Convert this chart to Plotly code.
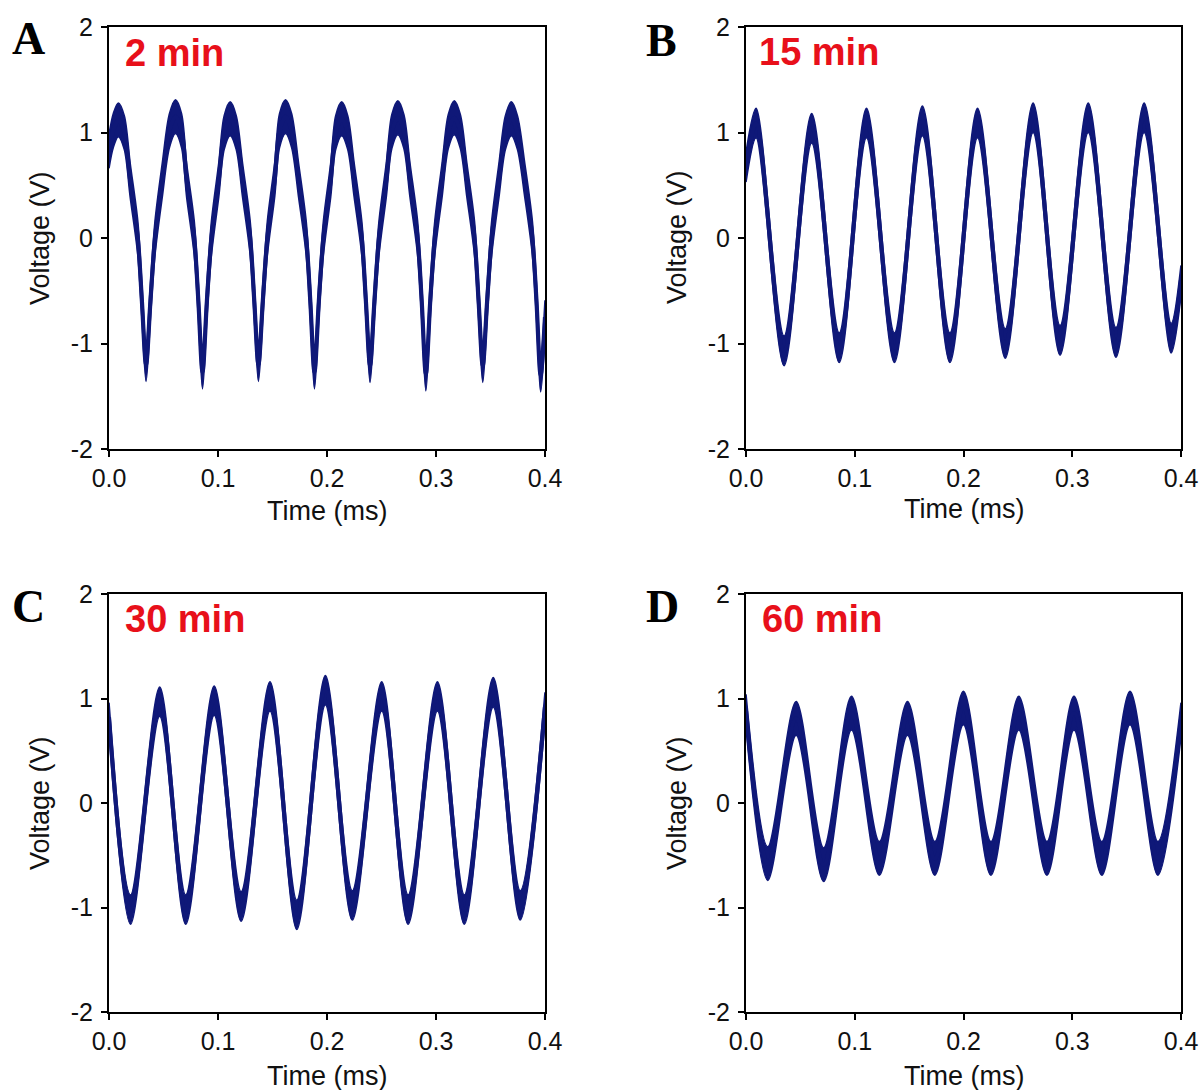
import plotly.graph_objects as go

W, H = 1204, 1090
NAVY = "#0f1878"
RED = "#e8101a"

# Axis ticks
x_tickvals = [0.0, 0.1, 0.2, 0.3, 0.4]
x_ticktext = ["0.0", "0.1", "0.2", "0.3", "0.4"]
y_tickvals = [-2, -1, 0, 1, 2]
y_ticktext = ["-2", "-1", "0", "1", "2"]

panel_letters = ["A", "B", "C", "D"]
panel_times = ["2 min", "15 min", "30 min", "60 min"]

# Waveform key points: time (ms) and mid-trace voltage (V); noise = half-width of the noisy band (V)
t_2min = [0.0, 0.0040, 0.0085, 0.0140, 0.0194, 0.0264, 0.0302, 0.0340, 0.0380, 0.0422, 0.0489, 0.0555,
          0.0610, 0.0665, 0.0712, 0.0782, 0.0820, 0.0858, 0.0898, 0.0940, 0.1007, 0.1057,
          0.1112, 0.1167, 0.1225, 0.1295, 0.1333, 0.1371, 0.1411, 0.1453, 0.1520, 0.1565,
          0.1620, 0.1675, 0.1739, 0.1809, 0.1847, 0.1885, 0.1925, 0.1967, 0.2034, 0.2080,
          0.2135, 0.2190, 0.2249, 0.2319, 0.2357, 0.2395, 0.2435, 0.2477, 0.2544, 0.2595,
          0.2650, 0.2705, 0.2761, 0.2831, 0.2869, 0.2907, 0.2947, 0.2989, 0.3056, 0.3113,
          0.3168, 0.3223, 0.3283, 0.3353, 0.3391, 0.3429, 0.3469, 0.3511, 0.3578, 0.3637,
          0.3692, 0.3747, 0.3814, 0.3884, 0.3922, 0.3960, 0.4000]
v_2min = [0.82, 1.02, 1.12, 1.00, 0.55, 0.0, -0.60, -1.20, -0.60, 0.0, 0.55, 1.02,
          1.15, 1.02, 0.55, 0.0, -0.60, -1.27, -0.60, 0.0, 0.55, 1.00,
          1.13, 1.00, 0.55, 0.0, -0.60, -1.20, -0.60, 0.0, 0.55, 1.02,
          1.15, 1.02, 0.55, 0.0, -0.60, -1.27, -0.60, 0.0, 0.55, 1.00,
          1.13, 1.00, 0.55, 0.0, -0.60, -1.21, -0.60, 0.0, 0.55, 1.01,
          1.14, 1.01, 0.55, 0.0, -0.60, -1.29, -0.60, 0.0, 0.55, 1.01,
          1.14, 1.01, 0.55, 0.0, -0.60, -1.21, -0.60, 0.0, 0.55, 1.00,
          1.13, 1.00, 0.55, 0.0, -0.60, -1.30, -0.75]
noise_2min = 0.16

t_15min = [0.0, 0.0093, 0.0350, 0.0604, 0.0857, 0.1108, 0.1365, 0.1622, 0.1875,
           0.2129, 0.2384, 0.2640, 0.2888, 0.3147, 0.3402, 0.3661, 0.3909, 0.4000]
v_15min = [0.67, 1.09, -1.07, 1.04, -1.04, 1.09, -1.04, 1.11, -1.04,
           1.09, -1.00, 1.14, -0.97, 1.14, -0.99, 1.14, -0.95, -0.40]
noise_15min = 0.14

t_30min = [0.0, 0.0198, 0.0465, 0.0704, 0.0965, 0.1212, 0.1477, 0.1723, 0.1985,
           0.2232, 0.2502, 0.2744, 0.3013, 0.3260, 0.3525, 0.3772, 0.4000]
v_30min = [0.82, -1.02, 0.97, -1.02, 0.98, -0.99, 1.02, -1.07, 1.08,
           -0.98, 1.02, -1.02, 1.02, -1.02, 1.06, -0.98, 0.92]
noise_30min = 0.14

t_60min = [0.0, 0.0200, 0.0461, 0.0714, 0.0970, 0.1226, 0.1485, 0.1736, 0.1999,
           0.2252, 0.2508, 0.2767, 0.3016, 0.3272, 0.3531, 0.3787, 0.4000]
v_60min = [0.88, -0.58, 0.81, -0.59, 0.86, -0.53, 0.81, -0.53, 0.91,
           -0.53, 0.86, -0.53, 0.86, -0.53, 0.91, -0.53, 0.80]
noise_60min = 0.16

series = [(t_2min, v_2min, noise_2min), (t_15min, v_15min, noise_15min),
          (t_30min, v_30min, noise_30min), (t_60min, v_60min, noise_60min)]

# Pixel layout of the four plot boxes (left, right, top, bottom)
boxes = [(109, 545, 27, 449), (746, 1181, 27, 449),
         (109, 545, 594, 1012), (746, 1181, 594, 1012)]


def px(x):
    return x / W


def py(y):
    return 1 - y / H


fig = go.Figure()
SMOOTH = 0.9

for i, (t, v, h) in enumerate(series):
    xa = "x" if i == 0 else f"x{i + 1}"
    ya = "y" if i == 0 else f"y{i + 1}"
    lower = [val - h for val in v]
    upper = [val + h for val in v]
    common = dict(xaxis=xa, yaxis=ya, showlegend=False, hoverinfo="skip", mode="lines")
    fig.add_trace(go.Scatter(x=t, y=lower,
                             line=dict(color=NAVY, width=1.6, shape="spline", smoothing=SMOOTH),
                             **common))
    fig.add_trace(go.Scatter(x=t, y=upper, fill="tonexty", fillcolor=NAVY,
                             line=dict(color=NAVY, width=1.6, shape="spline", smoothing=SMOOTH),
                             **common))
    fig.add_trace(go.Scatter(x=t, y=v,
                             line=dict(color=NAVY, width=4.2, shape="spline", smoothing=SMOOTH),
                             **common))

axis_common = dict(showline=True, linecolor="black", linewidth=2, mirror=True,
                   ticks="outside", ticklen=6, tickwidth=1.6, tickcolor="black",
                   showgrid=False, zeroline=False, automargin=False,
                   tickfont=dict(family="Liberation Sans, Arial", size=25, color="#111111"))

layout = dict(width=W, height=H, margin=dict(l=0, r=0, t=0, b=0, pad=0),
              autosize=False, paper_bgcolor="white", plot_bgcolor="white")

for i, (l, r, t, b) in enumerate(boxes):
    sx = "" if i == 0 else str(i + 1)
    layout[f"xaxis{sx}"] = dict(domain=[px(l), px(r)], range=[0, 0.4],
                                anchor=f"y{sx}", tickvals=x_tickvals, ticktext=x_ticktext,
                                ticklabelstandoff=0, **axis_common)
    layout[f"yaxis{sx}"] = dict(domain=[py(b), py(t)], range=[-2, 2],
                                anchor=f"x{sx}", tickvals=y_tickvals, ticktext=y_ticktext,
                                ticklabelstandoff=3, **axis_common)

fig.update_layout(**layout)

letter_pos = [(28, 38), (661, 40), (28, 606), (662, 606)]
time_pos = [(123, 53), (757, 52), (123, 619), (760, 619)]
xtitle_pos = [(327, 511), (963.5, 509), (327, 1076), (963.5, 1076)]
ytitle_pos = [(40, 238), (677, 237), (40, 803), (677, 803)]

annotations = []
for i in range(4):
    lx, ly = letter_pos[i]
    annotations.append(dict(x=px(lx), y=py(ly), xref="paper", yref="paper",
                            text=f"<b>{panel_letters[i]}</b>", showarrow=False,
                            xanchor="center", yanchor="middle",
                            font=dict(family="Liberation Serif, Times New Roman", size=46, color="black")))
    tx, ty = time_pos[i]
    annotations.append(dict(x=px(tx), y=py(ty), xref="paper", yref="paper",
                            text=f"<b>{panel_times[i]}</b>", showarrow=False,
                            xanchor="left", yanchor="middle",
                            font=dict(family="Liberation Sans, Arial", size=38, color=RED)))
    xx, xy = xtitle_pos[i]
    annotations.append(dict(x=px(xx), y=py(xy), xref="paper", yref="paper",
                            text="Time (ms)", showarrow=False,
                            xanchor="center", yanchor="middle",
                            font=dict(family="Liberation Sans, Arial", size=27, color="#111111")))
    yx, yy = ytitle_pos[i]
    annotations.append(dict(x=px(yx), y=py(yy), xref="paper", yref="paper",
                            text="Voltage (V)", showarrow=False, textangle=-90,
                            xanchor="center", yanchor="middle",
                            font=dict(family="Liberation Sans, Arial", size=27, color="#111111")))

fig.update_layout(annotations=annotations)

fig.write_html("out.html")
